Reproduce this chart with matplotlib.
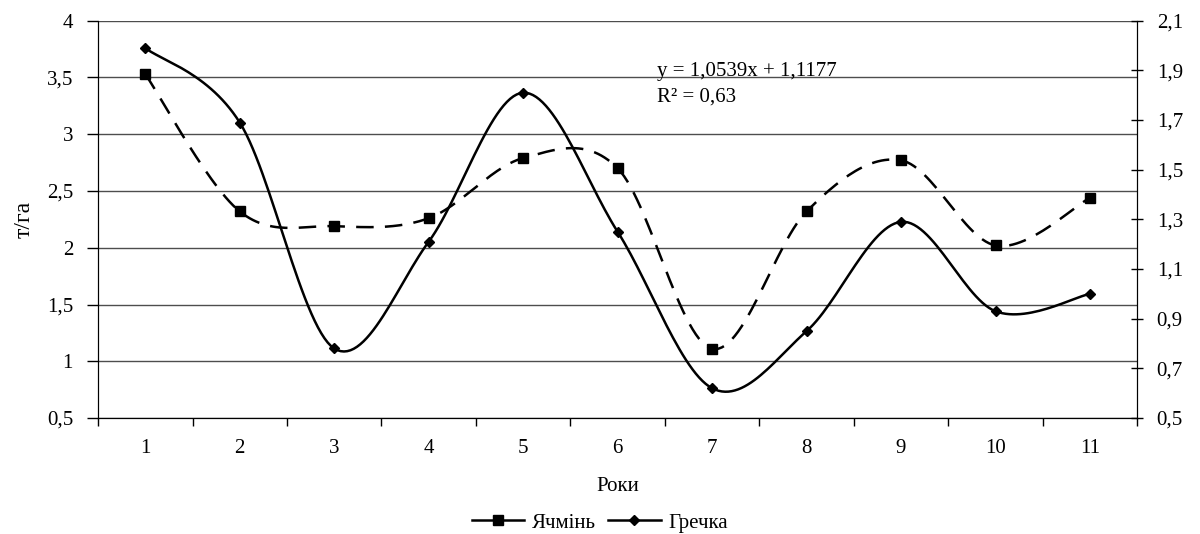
import numpy as np
import matplotlib
matplotlib.use("Agg")
import matplotlib.pyplot as plt
from matplotlib.lines import Line2D

plt.rcParams["font.family"] = ["Liberation Serif", "DejaVu Serif"]

years = list(range(1, 12))
barley = [3.53, 2.32, 2.19, 2.26, 2.79, 2.70, 1.11, 2.32, 2.77, 2.02, 2.44]
buckwheat = [1.99, 1.69, 0.78, 1.21, 1.81, 1.25, 0.62, 0.85, 1.29, 0.93, 1.00]
left_ticks = [0.5, 1, 1.5, 2, 2.5, 3, 3.5, 4]
right_ticks = [0.5, 0.7, 0.9, 1.1, 1.3, 1.5, 1.7, 1.9, 2.1]
equation = "y = 1,0539x + 1,1177\nR² = 0,63"


def smooth(xs, ys, n=30):
    """Excel-like smoothed line (Catmull-Rom as cubic Bezier)."""
    p = np.column_stack([xs, ys]).astype(float)
    p = np.vstack([p[0], p, p[-1]])
    out = []
    t = np.linspace(0, 1, n)[:, None]
    for i in range(1, len(p) - 2):
        b0 = p[i]
        b3 = p[i + 1]
        b1 = b0 + (p[i + 1] - p[i - 1]) / 6
        b2 = b3 - (p[i + 2] - p[i]) / 6
        seg = ((1 - t) ** 3) * b0 + 3 * ((1 - t) ** 2) * t * b1 + 3 * (1 - t) * t ** 2 * b2 + t ** 3 * b3
        out.append(seg if i == 1 else seg[1:])
    seg = np.vstack(out)
    return seg[:, 0], seg[:, 1]


def fmt(v):
    return f"{v:g}".replace(".", ",")


FS = 15

fig = plt.figure(figsize=(12, 5.34), dpi=100)
ax = fig.add_axes([0.0817, 0.2172, 0.866, 0.744])
ax2 = ax.twinx()

xs, ys = smooth(years, barley)
ax.plot(xs, ys, color="black", lw=1.8, dashes=(7, 4.5))
ax.plot(years, barley, ls="none", marker="s", ms=7.5, color="black")

xs, ys = smooth(years, buckwheat)
ax2.plot(xs, ys, color="black", lw=1.8)
ax2.plot(years, buckwheat, ls="none", marker="D", ms=5.5, color="black")

ax.set_xlim(0.5, 11.5)
ax.set_ylim(0.5, 4)
ax2.set_ylim(0.5, 2.1)

ax.set_yticks(left_ticks)
ax.set_yticklabels([fmt(v) for v in left_ticks], fontsize=FS)
ax2.set_yticks(right_ticks)
ax2.set_yticklabels([fmt(v) for v in right_ticks], fontsize=FS)

ax.set_xticks(years)
ax.set_xticklabels([str(y) for y in years], fontsize=FS)
ax.set_xticks(np.arange(0.5, 12, 1), minor=True)
ax.tick_params(axis="x", which="major", length=0, pad=15)
ax.tick_params(axis="x", which="minor", length=6, width=1, direction="out")
ax.tick_params(axis="y", length=8, width=1, direction="out", pad=10)
ax2.tick_params(axis="y", length=8, width=1, direction="inout", pad=10)

for a in (ax, ax2):
    a.spines["top"].set_visible(False)
ax.grid(axis="y", color="0.3", lw=1)
ax.set_axisbelow(True)

ax.set_ylabel("т/га", fontsize=17, labelpad=9)
ax.set_xlabel("Роки", fontsize=FS, labelpad=14)

ax.text(0.538, 0.896, equation, transform=ax.transAxes, fontsize=FS,
        va="top", ha="left", linespacing=1.45)

handles = [
    Line2D([], [], color="black", lw=1.8, marker="s", ms=7.5),
    Line2D([], [], color="black", lw=1.8, marker="D", ms=5.5),
]
fig.legend(handles, ["Ячмінь", "Гречка"], loc="center", bbox_to_anchor=(0.5, 0.021),
           ncol=2, frameon=False, fontsize=FS, handlelength=2.5, columnspacing=0.6,
           handletextpad=0.4)

fig.savefig("out.png", dpi=100)
